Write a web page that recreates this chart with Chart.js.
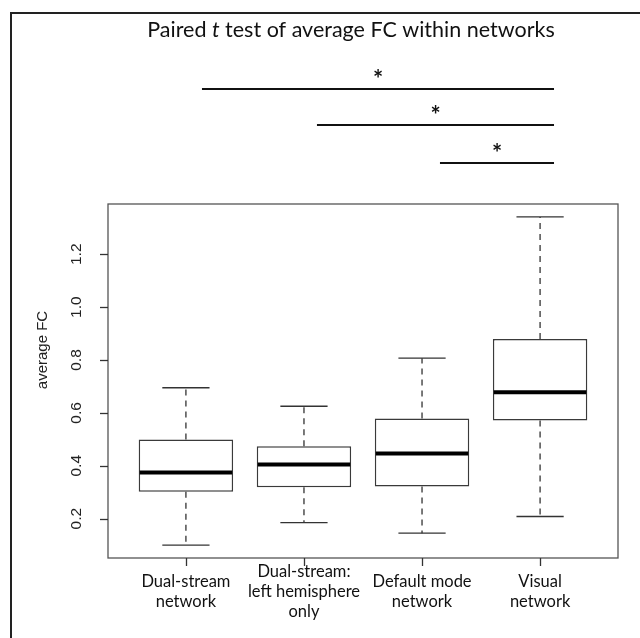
<!DOCTYPE html>
<html>
<head>
<meta charset="utf-8">
<script src="https://cdn.jsdelivr.net/npm/chart.js@4.4.1/dist/chart.umd.min.js"></script>
<style>
  html, body { margin: 0; padding: 0; background: #fff; }
  #wrap { position: relative; width: 640px; height: 638px; overflow: hidden; }
  #frame { position: absolute; left: 10px; top: 12px; width: 700px; height: 700px;
           border-left: 2px solid #222; border-top: 2px solid #222; }
  canvas { position: absolute; left: 0; top: 0; }
</style>
</head>
<body>
<div id="wrap">
  <div id="frame"></div>
  <canvas id="c" width="640" height="638"></canvas>
</div>
<script>
// groups and five-number summaries
const categories = [
  ['Dual-stream', 'network'],
  ['Dual-stream:', 'left hemisphere', 'only'],
  ['Default mode', 'network'],
  ['Visual', 'network']
];
const whiskerLow  = [0.100, 0.185, 0.145, 0.208];
const q1          = [0.302, 0.319, 0.321, 0.571];
const median      = [0.374, 0.405, 0.446, 0.678];
const q3          = [0.499, 0.474, 0.579, 0.879];
const whiskerHigh = [0.695, 0.625, 0.807, 1.341];
const yTicks = [0.2, 0.4, 0.6, 0.8, 1.0, 1.2];

// significance bars (x in group units) and their marks
const sigFrom  = [1.136, 2.11, 3.152];
const sigTo    = [4.118, 4.118, 4.118];
const sigLabel = ['*', '*', '*'];

const labelFont = 'Lato';
const axisFont = 'Liberation Sans';
const TICK = 8;

function seg(ctx, x1, y1, x2, y2) {
  ctx.beginPath();
  ctx.moveTo(x1, y1);
  ctx.lineTo(x2, y2);
  ctx.stroke();
}

const boxPlot = {
  id: 'boxPlot',
  beforeDatasetsDraw(chart) {
    const { ctx, chartArea: a, scales: { x, y } } = chart;
    ctx.save();
    ctx.strokeStyle = '#555';
    ctx.lineWidth = 1.3;
    ctx.strokeRect(a.left, a.top, a.right - a.left, a.bottom - a.top);
    // R style outward tick marks
    ctx.strokeStyle = '#333';
    x.ticks.forEach(t => {
      const px = Math.round(x.getPixelForValue(t.value)) + 0.5;
      seg(ctx, px, a.bottom, px, a.bottom + TICK);
    });
    y.ticks.forEach(t => {
      const py = Math.round(y.getPixelForValue(t.value)) + 0.5;
      seg(ctx, a.left - TICK, py, a.left, py);
    });
    ctx.restore();
  },
  afterDatasetsDraw(chart) {
    const { ctx, scales: { y } } = chart;
    const bars = chart.getDatasetMeta(0).data;
    ctx.save();
    bars.forEach((bar, i) => {
      const x = bar.x, half = bar.width / 2;
      ctx.strokeStyle = '#333';
      ctx.lineWidth = 1.3;
      ctx.setLineDash([6, 5]);
      seg(ctx, x, y.getPixelForValue(q3[i]), x, y.getPixelForValue(whiskerHigh[i]));
      seg(ctx, x, y.getPixelForValue(q1[i]), x, y.getPixelForValue(whiskerLow[i]));
      ctx.setLineDash([]);
      const hi = y.getPixelForValue(whiskerHigh[i]), lo = y.getPixelForValue(whiskerLow[i]);
      seg(ctx, x - half / 2, hi, x + half / 2, hi);
      seg(ctx, x - half / 2, lo, x + half / 2, lo);
      ctx.strokeStyle = '#000';
      ctx.lineWidth = 4;
      const m = y.getPixelForValue(median[i]);
      seg(ctx, x - half + 1, m, x + half - 1, m);
    });
    ctx.restore();
  },
  afterDraw(chart) {
    const { ctx, chartArea: a, scales: { x } } = chart;
    ctx.save();
    // title with italic t
    const parts = [['Paired ', ''], ['t', 'italic '], [' test of average FC within networks', '']];
    const tf = '21.5px ' + labelFont;
    let total = 0;
    parts.forEach(p => { ctx.font = p[1] + tf; total += ctx.measureText(p[0]).width; });
    let tx = 351 - total / 2;
    ctx.fillStyle = '#111';
    ctx.textBaseline = 'alphabetic';
    ctx.textAlign = 'left';
    parts.forEach(p => {
      ctx.font = p[1] + tf;
      ctx.fillText(p[0], tx, 37);
      tx += ctx.measureText(p[0]).width;
    });
    // significance bars
    const offsets = [115, 79, 41];
    ctx.strokeStyle = '#111';
    ctx.lineWidth = 2;
    ctx.font = 'bold 24px ' + labelFont;
    ctx.textAlign = 'center';
    sigFrom.forEach((f, i) => {
      const x1 = x.getPixelForValue(f), x2 = x.getPixelForValue(sigTo[i]);
      const yy = a.top - offsets[i];
      seg(ctx, x1, yy, x2, yy);
      ctx.fillText(sigLabel[i], (x1 + x2) / 2, yy - 1);
    });
    // y axis title
    ctx.translate(43, 350);
    ctx.rotate(-Math.PI / 2);
    ctx.font = '15px ' + axisFont;
    ctx.textBaseline = 'middle';
    ctx.textAlign = 'center';
    ctx.fillStyle = '#222';
    ctx.fillText('average FC', 0, 0);
    ctx.restore();
  }
};

new Chart(document.getElementById('c'), {
  type: 'bar',
  data: {
    datasets: [{
      data: categories.map((c, i) => ({ x: i + 1, y: [q1[i], q3[i]] })),
      backgroundColor: '#fff',
      borderColor: '#3a3a3a',
      borderWidth: 1.5,
      borderSkipped: false,
      barPercentage: 0.8,
      categoryPercentage: 1
    }]
  },
  options: {
    responsive: false,
    animation: false,
    layout: { padding: { top: 204, right: 22, left: 0, bottom: 0 } },
    plugins: { legend: { display: false }, tooltip: { enabled: false }, title: { display: false } },
    scales: {
      x: {
        type: 'linear',
        min: 0.34,
        max: 4.66,
        offset: false,
        afterBuildTicks: s => { s.ticks = categories.map((c, i) => ({ value: i + 1 })); },
        afterFit: s => { s.height = 80; },
        grid: { display: false },
        border: { display: false },
        ticks: {
          callback: v => categories[v - 1],
          font: { family: labelFont, size: 16.5 },
          color: '#111',
          padding: 6,
          crossAlign: 'center',
          maxRotation: 0,
          minRotation: 0,
          autoSkip: false
        }
      },
      y: {
        min: 0.051,
        max: 1.39,
        afterBuildTicks: s => { s.ticks = yTicks.map(v => ({ value: v })); },
        afterFit: s => { s.width = 108; },
        grid: { display: false },
        border: { display: false },
        ticks: {
          callback: v => v.toFixed(1),
          minRotation: 90,
          maxRotation: 90,
          crossAlign: 'center',
          padding: 13,
          font: { family: axisFont, size: 15.5 },
          color: '#222'
        }
      }
    }
  },
  plugins: [boxPlot]
});
</script>
</body>
</html>
